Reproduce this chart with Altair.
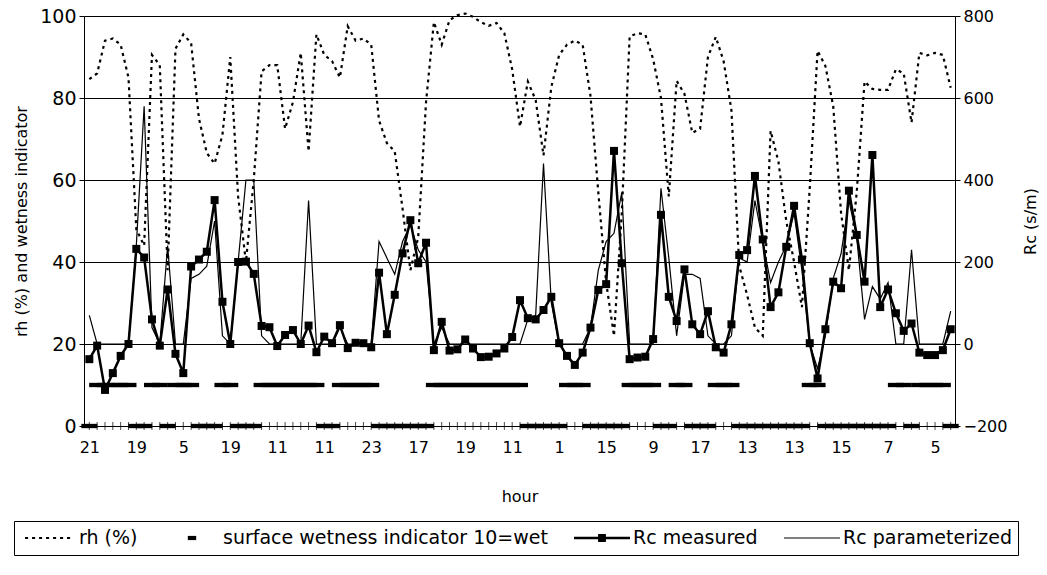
import altair as alt
import pandas as pd

# ---------------- data ----------------
hour_labels = [21, 19, 5, 19, 11, 11, 23, 17, 19, 11, 1, 15, 9, 17, 13, 13, 15, 7, 5]

rh = [84.6, 86, 94, 94.5, 93, 85, 48, 44, 90.5, 88,
      38, 92, 95.5, 93.4, 75, 66.6, 64, 71, 90, 56,
      40, 60, 86.5, 88, 88, 72.5, 79, 91, 67, 95.5,
      90.5, 89, 85, 97.5, 94, 94.5, 93, 74.5, 69, 67,
      53, 38, 46, 79, 98.5, 93, 99, 100.2, 100.6, 99.8,
      98.5, 97.6, 98.3, 95.8, 87, 73, 84, 79.5, 66, 82.7,
      90.5, 93, 94, 93, 80.5, 57, 35, 22, 52, 95,
      95.8, 95.5, 89.5, 80, 56, 84.2, 81, 71.5, 72.5, 90,
      94.9, 89, 77, 39, 32, 24, 22, 72, 64.5, 50,
      40, 29, 58, 91.5, 87.8, 78, 52, 38, 57, 84,
      82.2, 82, 82, 87, 86, 74, 91, 90.4, 91, 90.5,
      82.5]

wetness = [0, 10, 10, 10, 10, 10, 0, 0, 10, 10,
           0, 10, 10, 10, 0, 0, 0, 10, 10, 0,
           0, 0, 10, 10, 10, 10, 10, 10, 10, 10,
           0, 0, 10, 10, 10, 10, 10, 0, 0, 0,
           0, 0, 0, 0, 10, 10, 10, 10, 10, 10,
           10, 10, 10, 10, 10, 10, 0, 0, 0, 0,
           0, 10, 10, 10, 0, 0, 0, 0, 0, 10,
           10, 10, 10, 0, 0, 10, 10, 0, 0, 0,
           10, 10, 10, 0, 0, 0, 0, 0, 0, 0,
           0, 0, 10, 10, 0, 0, 0, 0, 0, 0,
           0, 0, 0, 10, 10, 0, 10, 10, 10, 10,
           0]

rc_measured = [-37, -4, -112, -71, -29, 0, 232, 211, 60, -4,
               133, -24, -71, 189, 206, 225, 351, 103, 0, 200,
               201, 171, 44, 41, -5, 22, 34, 0, 45, -20,
               18, 2, 46, -10, 3, 2, -8, 174, 24, 120,
               221, 302, 197, 247, -15, 54, -16, -13, 11, -11,
               -32, -31, -23, -11, 17, 107, 63, 60, 83, 115,
               2, -29, -51, -21, 40, 132, 146, 471, 197, -37,
               -33, -31, 12, 315, 115, 56, 182, 48, 24, 80,
               -8, -21, 48, 217, 229, 410, 255, 90, 126, 237,
               337, 206, 2, -84, 36, 152, 136, 374, 266, 152,
               461, 90, 133, 75, 32, 50, -21, -27, -27, -15,
               36]

rc_param = [70, 0, 0, 0, 0, 0, 240, 580, 40, 0,
            240, 0, 0, 160, 170, 190, 300, 20, 0, 200,
            400, 400, 20, 0, 0, 0, 0, 0, 350, 0,
            0, 0, 40, 0, 0, 0, 0, 250, 210, 170,
            250, 290, 230, 200, 0, 40, 0, 0, 0, 0,
            0, 0, 0, 0, 0, 0, 60, 70, 440, 100,
            0, 0, 0, 0, 40, 180, 250, 270, 370, 0,
            0, 0, 0, 380, 210, 20, 170, 170, 160, 20,
            0, 0, 20, 210, 200, 350, 250, 150, 200, 240,
            320, 180, 0, -60, 20, 160, 220, 350, 260, 60,
            140, 110, 150, 0, 0, 230, 0, 0, 0, 0,
            80]

series_names = ["rh (%)", "surface wetness indicator 10=wet", "Rc measured", "Rc parameterized"]

n = len(rh)
df = pd.DataFrame({"idx": list(range(n)), "rh": rh, "wet": wetness,
                   "meas": rc_measured, "param": rc_param})
long = df.melt(id_vars="idx", value_vars=["rh", "wet", "meas", "param"], var_name="key", value_name="v")
long["series"] = long["key"].map(dict(zip(["rh", "wet", "meas", "param"], series_names)))

# ---------------- styling ----------------
FONT = "DejaVu Sans"
LABEL_STEP = 6

def rect(x0, x1, y0, y1):
    return f"M{x0:.3f},{y0:.3f}H{x1:.3f}V{y1:.3f}H{x0:.3f}Z"

dotted = " ".join(rect(-0.82 + k * 0.25, -0.82 + k * 0.25 + 0.11, -0.04, 0.04) for k in range(7))
dash_sym = rect(-0.15, 0.15, -0.075, 0.075)
meas_sym = rect(-1, 1, -0.045, 0.045) + " " + rect(-0.14, 0.14, -0.14, 0.14)
param_sym = rect(-1, 1, -0.022, 0.022)
legend_shapes = [dotted, dash_sym, meas_sym, param_sym]

wet_marker = rect(-1, 1, -0.27, 0.27)

x_scale = alt.Scale(domain=[-0.68, 110.55], nice=False, zero=False)
label_pos = list(range(0, LABEL_STEP * len(hour_labels), LABEL_STEP))
label_expr = "[" + ",".join(str(h) for h in hour_labels) + f"][round(datum.value / {LABEL_STEP})]"

x_axis = alt.Axis(values=label_pos, labelExpr=label_expr, ticks=False, grid=False,
                  domain=True, domainColor="black", domainWidth=1,
                  labelFont=FONT, labelFontSize=16, labelColor="black", labelPadding=13,
                  title="hour", titleFont=FONT, titleFontSize=16, titleFontWeight="normal",
                  titleColor="black", titlePadding=33)

yl_scale = alt.Scale(domain=[0, 100], nice=False, zero=False)
yr_scale = alt.Scale(domain=[-200, 800], nice=False, zero=False)

yl_axis = alt.Axis(values=[0, 20, 40, 60, 80, 100], grid=True, gridColor="black", gridWidth=1,
                   gridOpacity=1, tickSize=5, tickColor="black", domain=True, domainColor="black",
                   labelFont=FONT, labelFontSize=19, labelColor="black", labelPadding=3,
                   title="rh (%) and wetness indicator", titleFont=FONT, titleFontSize=16,
                   titleFontWeight="normal", titleColor="black", titlePadding=10)
yr_axis = alt.Axis(orient="right", values=[-200, 0, 200, 400, 600, 800], grid=False, tickSize=5,
                   tickColor="black", domain=True, domainColor="black",
                   labelFont=FONT, labelFontSize=16, labelColor="black", labelPadding=3,
                   title="Rc (s/m)", titleFont=FONT, titleFontSize=16, titleFontWeight="normal",
                   titleColor="black", titleAngle=270, titleBaseline="top", titlePadding=16)

X = alt.X("idx:Q", scale=x_scale, axis=x_axis)

legend = alt.Legend(title=None, orient="none", legendX=-70, legendY=505, direction="horizontal",
                    symbolSize=3136, clipHeight=22, symbolFillColor="black",
                    symbolStrokeColor="black", symbolStrokeWidth=0, symbolOpacity=1,
                    labelFont=FONT, labelFontSize=19, labelColor="black", labelLimit=0,
                    labelOffset=3, columnPadding=26, padding=6,
                    strokeColor="black", fillColor="white")

# ---------------- left-axis layers ----------------
rh_line = alt.Chart(df).mark_line(color="black", strokeWidth=2.2, strokeDash=[3, 4]).encode(
    x=X, y=alt.Y("rh:Q", scale=yl_scale, axis=yl_axis))

wet_pts = alt.Chart(df).mark_point(shape=wet_marker, filled=True, color="black", opacity=1,
                                   size=256, strokeWidth=0).encode(
    x=X, y=alt.Y("wet:Q", scale=yl_scale, axis=yl_axis))

axis_ticks = alt.Chart(df).mark_tick(orient="vertical", color="black", size=8, thickness=1).encode(
    x=X, y=alt.datum(0, scale=yl_scale, axis=yl_axis))

legend_layer = alt.Chart(long).mark_point(filled=True, color="black", opacity=0, clip=True).encode(
    x=X, y=alt.Y("v:Q", scale=yl_scale, axis=yl_axis),
    shape=alt.Shape("series:N", scale=alt.Scale(domain=series_names, range=legend_shapes),
                    legend=legend))

left = alt.layer(rh_line, axis_ticks, wet_pts, legend_layer)

# ---------------- right-axis layers ----------------
param_line = alt.Chart(df).mark_line(color="black", strokeWidth=1.2).encode(
    x=X, y=alt.Y("param:Q", scale=yr_scale, axis=yr_axis))
meas_line = alt.Chart(df).mark_line(color="black", strokeWidth=2.5).encode(
    x=X, y=alt.Y("meas:Q", scale=yr_scale, axis=yr_axis))
meas_pts = alt.Chart(df).mark_point(shape="square", filled=True, color="black", opacity=1,
                                    size=64).encode(
    x=X, y=alt.Y("meas:Q", scale=yr_scale, axis=yr_axis))

right = alt.layer(param_line, meas_line, meas_pts)

chart = alt.layer(left, right).resolve_scale(y="independent").properties(
    width=871, height=410,
    padding={"left": 84, "top": 16, "right": 92, "bottom": 149},
    autosize=alt.AutoSizeParams(type="none"),
    background="white",
).configure_view(stroke=None)

chart.save("out.html", embed_options={"renderer": "svg", "actions": False})
